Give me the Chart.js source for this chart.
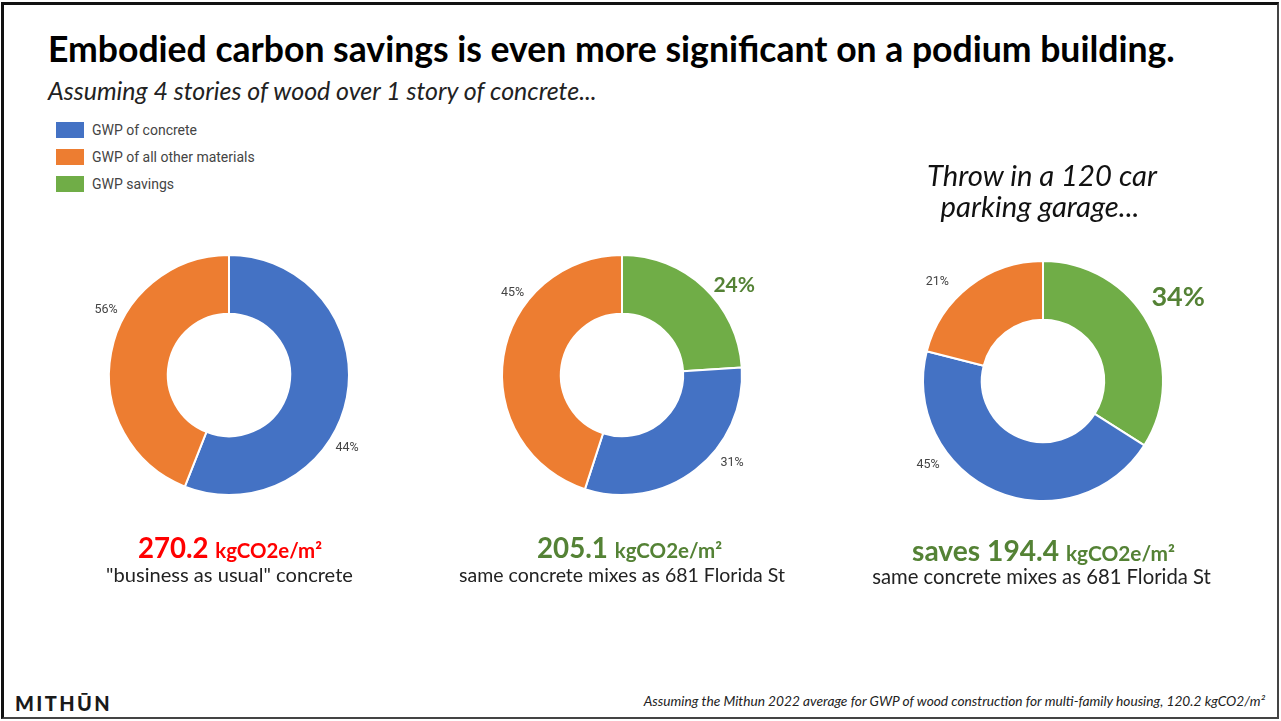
<!DOCTYPE html>
<html><head><meta charset="utf-8">
<script src="https://cdn.jsdelivr.net/npm/chart.js@4.4.1/dist/chart.umd.min.js"></script>
<style>
html,body{margin:0;padding:0;background:#fff;}
body{width:1281px;height:721px;position:relative;overflow:hidden;font-family:Lato,"Open Sans",sans-serif;}
.frame{position:absolute;left:1px;top:2px;width:1278px;height:717px;border-top:3px solid #111;border-left:3px solid #111;border-right:2px solid #444;border-bottom:2px solid #444;box-sizing:border-box;}
.t{position:absolute;white-space:nowrap;line-height:1;left:0;top:0;z-index:2;}
.cv{position:absolute;z-index:1;}
.sq{position:absolute;width:28px;height:16px;}
.lg{position:absolute;font-family:Roboto,Arial,sans-serif;font-size:14px;color:#444;line-height:16px;}
</style></head>
<body>
<div class="frame"></div>

<div class="t" id="title" style="font-size:30px;font-weight:700;color:#000;">Embodied carbon savings is even more significant on a podium building.</div>
<div class="t" id="subtitle" style="font-size:21px;font-style:italic;color:#222;">Assuming 4 stories of wood over 1 story of concrete...</div>

<div id="legend"></div>

<div class="t" id="throw1" style="font-size:26px;font-style:italic;color:#111;">Throw in a 120 car</div>
<div class="t" id="throw2" style="font-size:26px;font-style:italic;color:#111;">parking garage...</div>

<canvas class="cv" id="c1" width="400" height="400"></canvas>
<canvas class="cv" id="c2" width="400" height="400"></canvas>
<canvas class="cv" id="c3" width="400" height="400"></canvas>

<div class="t" id="v1" style="font-size:22px;font-weight:700;color:#ff0000;">270.2 <span style="font-size:0.74em">kgCO2e/m²</span></div>
<div class="t" id="s1" style="font-size:19px;color:#222;">"business as usual" concrete</div>
<div class="t" id="v2" style="font-size:22px;font-weight:700;color:#548235;">205.1 <span style="font-size:0.74em">kgCO2e/m²</span></div>
<div class="t" id="s2" style="font-size:19px;color:#222;">same concrete mixes as 681 Florida St</div>
<div class="t" id="v3" style="font-size:22px;font-weight:700;color:#548235;">saves 194.4 <span style="font-size:0.74em">kgCO2e/m²</span></div>
<div class="t" id="s3" style="font-size:19px;color:#222;">same concrete mixes as 681 Florida St</div>

<div class="t" id="logo" style="font-size:18px;font-weight:900;color:#1a1a1a;letter-spacing:0.12em;font-family:Lato,'DejaVu Sans',sans-serif;">MITHŪN</div>
<div class="t" id="foot" style="font-size:11px;font-style:italic;color:#222;">Assuming the Mithun 2022 average for GWP of wood construction for multi-family housing, 120.2 kgCO2/m²</div>

<script>
// ---- data ----
const categories = ['GWP of concrete', 'GWP of all other materials', 'GWP savings'];
// chart 1 ("business as usual"): concrete, other (clockwise from top)
const bauCategories = ['GWP of concrete', 'GWP of all other materials'];
const bauValues = [56, 44];
const bauLabels = ['44%', '56%'];
// chart 2 (wood podium): savings, concrete, other
const woodCategories = ['GWP savings', 'GWP of concrete', 'GWP of all other materials'];
const woodValues = [24, 31, 45];
const woodLabels = ['24%', '31%', '45%'];
// chart 3 (with parking garage): savings, concrete, other
const garageCategories = ['GWP savings', 'GWP of concrete', 'GWP of all other materials'];
const garageValues = [34, 45, 21];
const garageLabels = ['34%', '45%', '21%'];

// ---- styles ----
const colorOf = {
  'GWP of concrete': '#4472C4',
  'GWP of all other materials': '#ED7D31',
  'GWP savings': '#70AD47'
};
const small = '12.5px Roboto, Arial, sans-serif';
const gray = '#444';

// legend
const lg = document.getElementById('legend');
categories.forEach((c, i) => {
  const y = 122 + i * 27;
  const sq = document.createElement('div');
  sq.className = 'sq'; sq.style.left = '56px'; sq.style.top = y + 'px'; sq.style.background = colorOf[c];
  const tx = document.createElement('div');
  tx.className = 'lg'; tx.style.left = '92px'; tx.style.top = (y) + 'px'; tx.textContent = c;
  lg.appendChild(sq); lg.appendChild(tx);
});

// text placement helper: fit width and put baseline at given y
function place(id, x, base, w, align, fsFrom) {
  const el = document.getElementById(id);
  if (fsFrom) el.style.fontSize = document.getElementById(fsFrom).style.fontSize;
  if (w) {
    const cw = el.getBoundingClientRect().width;
    const fs = parseFloat(el.style.fontSize) * w / cw;
    el.style.fontSize = fs + 'px';
  }
  const mk = document.createElement('span');
  mk.style.cssText = 'display:inline-block;width:0;height:0;';
  el.appendChild(mk);
  const r = el.getBoundingClientRect();
  const bl = mk.getBoundingClientRect().top - r.top;
  let left = x;
  if (align === 'center') left = x - r.width / 2;
  if (align === 'right') left = x - r.width;
  el.style.left = left + 'px';
  el.style.top = (base - bl) + 'px';
}
place('title', 48, 62, 1127, 'left');
place('subtitle', 48, 100, 549, 'left');
place('throw1', 1042, 186, 230, 'center');
place('throw2', 1040, 217, null, 'center', 'throw1');
place('v1', 230, 558, 184, 'center');
place('s1', 229.5, 582, 247, 'center');
place('v2', 629.5, 558, 185, 'center');
place('s2', 622, 582, 326, 'center');
place('v3', 1043.5, 561, 263, 'center');
place('s3', 1041.5, 584, 339, 'center');
place('logo', 15, 711, 97, 'left');
place('foot', 1265, 706, 622, 'right');

// outside labels plugin
const outLabels = {
  id: 'outLabels',
  afterDatasetsDraw(chart, args, opts) {
    const meta = chart.getDatasetMeta(0);
    const ctx = chart.ctx;
    meta.data.forEach((arc, i) => {
      const p = arc.getProps(['startAngle', 'endAngle', 'x', 'y', 'outerRadius'], true);
      const a = (p.startAngle + p.endAngle) / 2 + (opts.nudge[i] || 0) * Math.PI / 180;
      const r = p.outerRadius + opts.gap[i];
      ctx.save();
      ctx.font = opts.font[i];
      ctx.fillStyle = opts.color[i];
      ctx.textAlign = 'center';
      ctx.textBaseline = 'middle';
      ctx.fillText(opts.texts[i], p.x + r * Math.cos(a), p.y + r * Math.sin(a));
      ctx.restore();
    });
  }
};

function donut(id, cx, cy, cats, values, labels, lab) {
  const cv = document.getElementById(id);
  cv.style.left = (cx - 200) + 'px';
  cv.style.top = (cy - 200) + 'px';
  new Chart(cv, {
    type: 'doughnut',
    data: {
      labels: cats,
      datasets: [{
        data: values,
        backgroundColor: cats.map(c => colorOf[c]),
        borderColor: '#fff',
        borderWidth: 2
      }]
    },
    options: {
      responsive: false,
      animation: false,
      devicePixelRatio: 1,
      cutout: '51%',
      layout: { padding: 79 },
      plugins: {
        legend: { display: false },
        tooltip: { enabled: false },
        outLabels: Object.assign({ texts: labels }, lab)
      }
    },
    plugins: [outLabels]
  });
}

const bigGreen = c => `bold ${c}px Lato, sans-serif`;
donut('c1', 229, 375, bauCategories, bauValues, bauLabels,
  { nudge: [21, 17], gap: [19, 19], font: [small, small], color: [gray, gray] });
donut('c2', 622, 375, woodCategories, woodValues, woodLabels,
  { nudge: [8, -13.5, 28], gap: [24, 21, 17], font: [bigGreen(21), small, small], color: ['#548235', gray, gray] });
donut('c3', 1043, 381, garageCategories, garageValues, garageLabels,
  { nudge: [-3, 30.6, -9], gap: [39, 22, 25], font: [bigGreen(27), small, small], color: ['#548235', gray, gray] });
</script>
</body></html>
